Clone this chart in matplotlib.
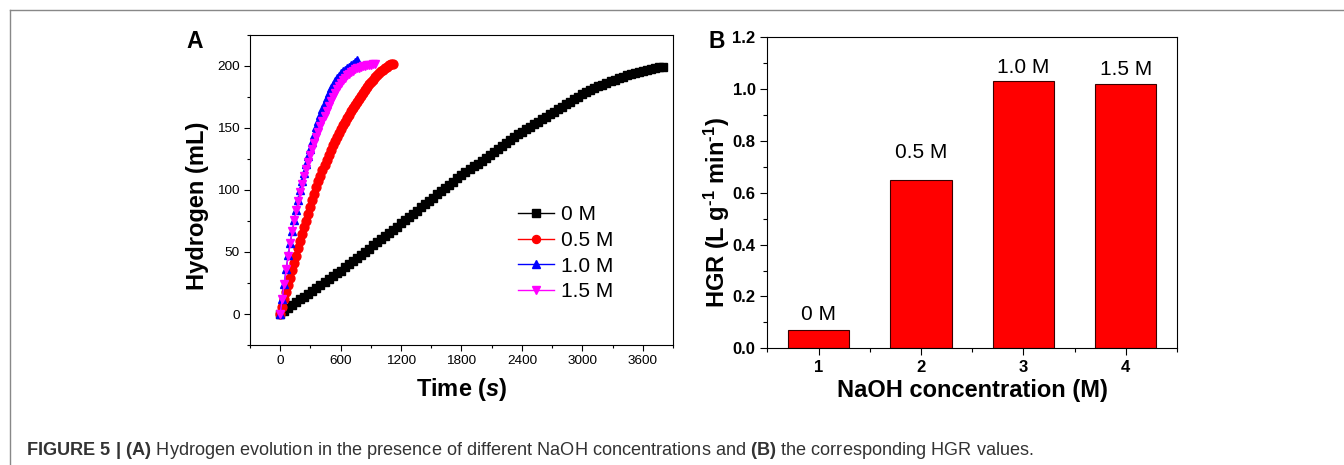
import matplotlib
matplotlib.use("Agg")
import matplotlib.pyplot as plt
from matplotlib.lines import Line2D
from matplotlib.ticker import MultipleLocator

plt.rcParams['font.family'] = ['Liberation Sans', 'DejaVu Sans']
plt.rcParams['mathtext.fontset'] = 'custom'
plt.rcParams['mathtext.default'] = 'regular'
plt.rcParams['mathtext.it'] = 'Liberation Sans:italic:bold'
plt.rcParams['mathtext.bf'] = 'Liberation Sans:bold'

# ---- panel A data: hydrogen volume (mL) vs time (s)
time_0M = [0, 40, 80, 120, 160, 200, 240, 280, 320, 360, 400, 440, 480, 520, 560, 600,
           640, 680, 720, 760, 800, 840, 880, 920, 960, 1000, 1040, 1080, 1120, 1160, 1200,
           1240, 1280, 1320, 1360, 1400, 1440, 1480, 1520, 1560, 1600, 1640, 1680, 1720, 1760, 1800,
           1840, 1880, 1920, 1960, 2000, 2040, 2080, 2120, 2160, 2200, 2240, 2280, 2320, 2360, 2400,
           2440, 2480, 2520, 2560, 2600, 2640, 2680, 2720, 2760, 2800, 2840, 2880, 2920, 2960, 3000,
           3040, 3080, 3120, 3160, 3200, 3240, 3280, 3320, 3360, 3400, 3440, 3480, 3520, 3560, 3600,
           3640, 3680, 3720, 3760, 3800]
h2_0M = [0, 2.3, 4.7, 7.0, 9.3, 11.7, 14.0, 16.3, 18.7, 21.0, 23.3, 25.7, 28.0, 30.3, 32.7, 35.0,
         37.5, 40.1, 42.6, 45.1, 47.7, 50.2, 52.7, 55.3, 57.8, 60.3, 62.9, 65.4, 67.9, 70.5, 73.0,
         75.6, 78.2, 80.8, 83.4, 86.0, 88.6, 91.2, 93.8, 96.4, 99.0, 101.6, 104.2, 106.8, 109.4, 112.0,
         114.3, 116.7, 119.0, 121.3, 123.7, 126.0, 128.3, 130.7, 133.0, 135.3, 137.7, 140.0, 142.3, 144.7, 147.0,
         149.0, 151.0, 153.0, 155.0, 157.0, 159.0, 161.0, 163.0, 165.0, 167.0, 169.0, 171.0, 173.0, 175.0, 177.0,
         178.7, 180.3, 181.9, 183.4, 184.9, 186.3, 187.6, 188.9, 190.1, 191.3, 192.4, 193.4, 194.4, 195.3, 196.1,
         196.9, 197.6, 198.3, 198.9, 199.5]

time_05M = [0, 20, 40, 60, 80, 100, 120, 140, 160, 180,
            200, 220, 240, 260, 280, 300, 320, 340, 360, 380,
            400, 420, 440, 460, 480, 500, 520, 540, 560, 580,
            600, 620, 640, 660, 680, 700, 720, 740, 760, 780,
            800, 820, 840, 860, 880, 900, 920, 940, 960, 980,
            1000, 1020, 1040, 1060, 1080, 1100, 1120]
h2_05M = [0, 5.9, 11.8, 17.6, 23.5, 29.4, 35.3, 41.2, 47.1, 52.9,
          58.6, 64.2, 69.8, 75.3, 80.8, 86.3, 91.7, 97.1, 102.2, 107.0,
          111.6, 116.0, 120.3, 124.4, 128.4, 132.2, 135.9, 139.4, 142.8, 146.1,
          149.2, 152.2, 155.1, 158.0, 160.8, 163.5, 166.1, 168.7, 171.2, 173.6,
          175.9, 178.1, 180.3, 182.8, 185.0, 187.1, 189.0, 190.8, 192.5, 194.1,
          195.6, 197.0, 198.3, 199.4, 200.4, 201.2, 201.8]

time_10M = [0, 20, 40, 60, 80, 100, 120, 140, 160, 180,
            200, 220, 240, 260, 280, 300, 320, 340, 360, 380,
            400, 420, 440, 460, 480, 500, 520, 540, 560, 580,
            600, 620, 640, 660, 680, 700, 720, 740, 760]
h2_10M = [0, 12.0, 24.5, 36.5, 47.5, 57.5, 66.8, 75.6, 84.0, 92.0,
          99.7, 107.0, 114.0, 120.7, 127.1, 133.2, 139.0, 144.6, 150.5, 155.8,
          160.8, 165.6, 170.1, 174.4, 178.3, 181.8, 184.9, 187.6, 190.0, 192.1,
          193.9, 195.5, 196.9, 198.2, 199.4, 200.6, 201.8, 203.1, 204.5]

time_15M = [0, 20, 40, 60, 80, 100, 120, 140, 160, 180,
            200, 220, 240, 260, 280, 300, 320, 340, 360, 380,
            400, 420, 440, 460, 480, 500, 520, 540, 560, 580,
            600, 620, 640, 660, 680, 700, 720, 740, 760, 780,
            800, 820, 840, 860, 880, 900, 920, 940]
h2_15M = [0, 12.3, 24.5, 36.0, 47.0, 57.3, 66.8, 75.6, 83.6, 91.0,
          98.0, 104.7, 111.0, 117.0, 122.6, 128.0, 133.1, 138.0, 142.6, 147.1,
          151.3, 155.6, 159.8, 163.9, 167.8, 171.5, 175.0, 178.2, 181.2, 184.0,
          186.5, 188.7, 190.6, 192.3, 193.8, 195.1, 196.2, 197.1, 197.9, 198.6,
          199.2, 199.7, 200.1, 200.5, 200.8, 201.1, 201.3, 201.5]

# ---- panel B data: hydrogen generation rate
bar_pos = [1, 2, 3, 4]
hgr = [0.07, 0.65, 1.03, 1.02]
bar_labels = ["0 M", "0.5 M", "1.0 M", "1.5 M"]
label_gap = [0.039, 0.084, 0.031, 0.034]   # how far above each bar its label sits

fig = plt.figure(figsize=(13.44, 4.65), dpi=100)

# ---------------- panel A
ax1 = fig.add_axes([0.186, 0.258, 0.3147, 0.667])
series = [
    (time_0M, h2_0M, 'black', 's', 6.2, '0 M'),
    (time_05M, h2_05M, 'red', 'o', 6.4, '0.5 M'),
    (time_10M, h2_10M, 'blue', '^', 6.3, '1.0 M'),
    (time_15M, h2_15M, '#ff00ff', 'v', 6.3, '1.5 M'),
]
for t, h, c, m, ms, lab in series:
    ax1.plot(t, h, color=c, marker=m, markersize=ms, lw=1, label=lab,
             markeredgecolor=c)

ax1.set_xlim(-300, 3900)
ax1.set_ylim(-25, 225)
ax1.xaxis.set_major_locator(MultipleLocator(600))
ax1.xaxis.set_minor_locator(MultipleLocator(300))
ax1.yaxis.set_major_locator(MultipleLocator(50))
ax1.yaxis.set_minor_locator(MultipleLocator(25))
ax1.tick_params(which='both', direction='out', top=False, right=False, labelsize=9.7)
ax1.tick_params(which='major', length=4, width=0.8)
ax1.tick_params(which='minor', length=2.5, width=0.8)
ax1.set_xlabel(r'Time ($\mathit{s}$)', fontsize=17, fontweight='bold', labelpad=6)
ax1.set_ylabel('Hydrogen (mL)', fontsize=17, fontweight='bold')
ax1.yaxis.set_label_coords(-0.097, 0.449)
ax1.legend(loc='upper left', bbox_to_anchor=(0.634, 0.4506), frameon=False,
           fontsize=15, handlelength=1.7, handletextpad=0.35, labelspacing=0.32,
           borderpad=0, borderaxespad=0, markerscale=0.9)
fig.text(186.5 / 1344, 1 - 48.5 / 465, 'A', fontsize=16.5, fontweight='bold', va='baseline')

# ---------------- panel B
ax2 = fig.add_axes([0.571, 0.251, 0.3047, 0.6687])
ax2.bar(bar_pos, hgr, width=0.6, color='red', edgecolor='#3a0000', linewidth=0.8)
for x, v, g, lab in zip(bar_pos, hgr, label_gap, bar_labels):
    ax2.text(x, v + g, lab, ha='center', va='baseline', fontsize=15)
ax2.set_xlim(0.5, 4.5)
ax2.set_ylim(0, 1.2)
ax2.set_xticks(bar_pos)
ax2.xaxis.set_minor_locator(MultipleLocator(0.5))
ax2.yaxis.set_major_locator(MultipleLocator(0.2))
ax2.yaxis.set_minor_locator(MultipleLocator(0.1))
ax2.yaxis.set_major_formatter(plt.FormatStrFormatter('%.1f'))
ax2.tick_params(which='both', direction='out', top=False, right=False, labelsize=12)
ax2.tick_params(which='major', length=5, width=0.8)
ax2.tick_params(which='minor', length=3, width=0.8)
for lbl in ax2.get_xticklabels() + ax2.get_yticklabels():
    lbl.set_fontweight('bold')
ax2.set_xlabel('NaOH concentration (M)', fontsize=17, fontweight='bold', labelpad=3)
ax2.set_ylabel('HGR (L g$^{\u20101}$ min$^{\u20101}$)', fontsize=17, fontweight='bold')
ax2.yaxis.set_label_coords(-0.087, 0.438)
fig.text(708 / 1344, 1 - 48.5 / 465, 'B', fontsize=16.5, fontweight='bold', va='baseline')

# ---------------- frame and caption
x0 = 9.5 / 1344
y0 = 1 - 10.5 / 465
fig.add_artist(Line2D([x0, 1], [y0, y0], transform=fig.transFigure, color='#888888', lw=1))
fig.add_artist(Line2D([x0, x0], [0, y0], transform=fig.transFigure, color='#888888', lw=1))
fig.text(26.5 / 1344, 1 - 454.7 / 465,
         r'$\mathbf{FIGURE\ 5\ |\ (A)}$ Hydrogen evolution in the presence of different NaOH '
         r'concentrations and $\mathbf{(B)}$ the corresponding HGR values.',
         fontsize=13.1, color='#333333', va='baseline')

fig.savefig('out.png', dpi=100)
